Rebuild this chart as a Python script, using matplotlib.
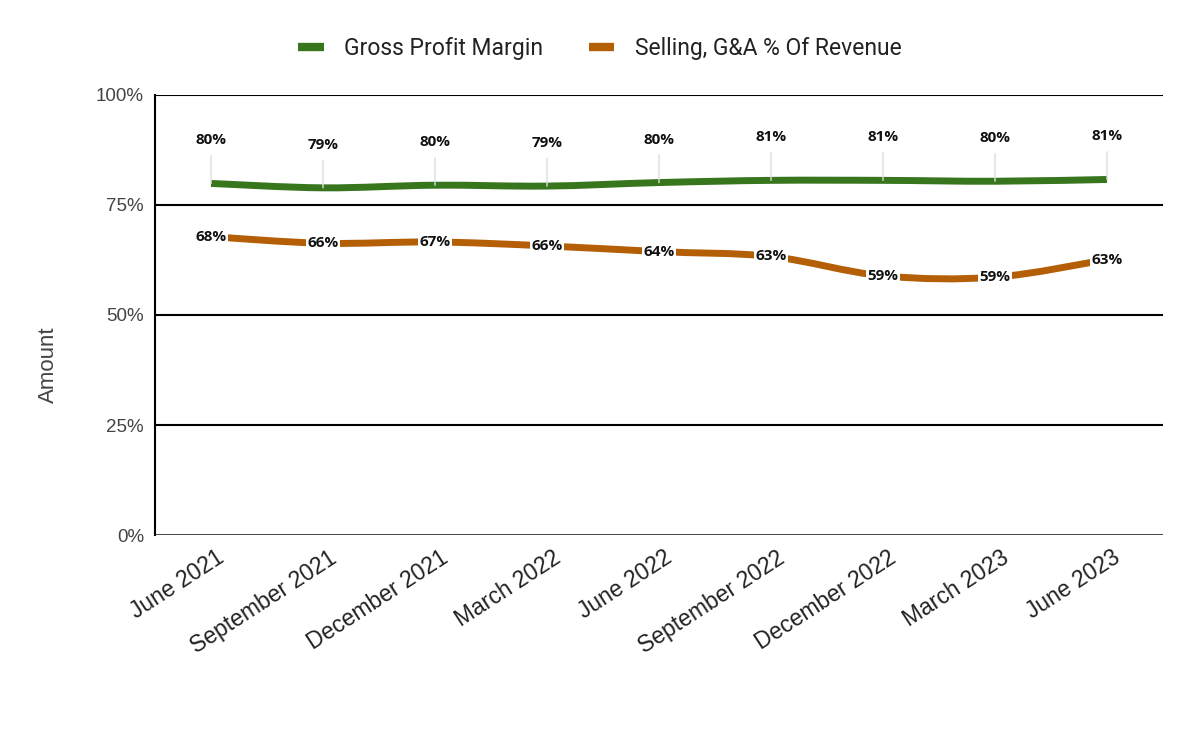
import numpy as np
import matplotlib.pyplot as plt
import matplotlib.transforms as mtransforms
from matplotlib.path import Path
from matplotlib.patches import PathPatch
from matplotlib.lines import Line2D

quarters = ['June 2021', 'September 2021', 'December 2021', 'March 2022', 'June 2022',
            'September 2022', 'December 2022', 'March 2023', 'June 2023']
gross_margin = [79.9, 78.9, 79.5, 79.3, 80.1, 80.6, 80.6, 80.4, 80.8]
sga_pct = [67.8, 66.3, 66.6, 65.7, 64.4, 63.3, 58.9, 58.6, 62.6]
y_ticks = [0, 25, 50, 75, 100]

GREEN = '#38761d'
ORANGE = '#b45f06'
LABEL_FONT = ['Open Sans', 'DejaVu Sans']


def smooth_path(xs, ys):
    """Catmull-Rom style bezier path through the points."""
    pts = np.column_stack([xs, ys]).astype(float)
    verts = [pts[0]]
    codes = [Path.MOVETO]
    n = len(pts)
    for i in range(n - 1):
        p0 = pts[max(i - 1, 0)]
        p1 = pts[i]
        p2 = pts[i + 1]
        p3 = pts[min(i + 2, n - 1)]
        c1 = p1 + (p2 - p0) / 6.0
        c2 = p2 - (p3 - p1) / 6.0
        verts += [c1, c2, p2]
        codes += [Path.CURVE4] * 3
    return Path(verts, codes)


fig = plt.figure(figsize=(12, 7.41), dpi=100)
ax = fig.add_axes([0.1292, 0.278, 0.84, 0.5938])

x = np.arange(len(quarters))

for vals, color in [(gross_margin, GREEN), (sga_pct, ORANGE)]:
    patch = PathPatch(smooth_path(x, vals), facecolor='none', edgecolor=color,
                      linewidth=5, capstyle='butt', joinstyle='round', zorder=4)
    ax.add_patch(patch)

# green labels above with leader lines
for i, v in enumerate(gross_margin):
    ax.annotate(f'{round(v):d}%', xy=(i, v), xytext=(0, 31), textcoords='offset points',
                ha='center', va='center', fontsize=11, fontweight='bold',
                family=LABEL_FONT, color='#111111', zorder=5,
                arrowprops=dict(arrowstyle='-', color='#dddddd', lw=1,
                                shrinkA=4, shrinkB=0), annotation_clip=False)

# orange labels on the line
for i, v in enumerate(sga_pct):
    ax.text(i, v, f'{round(v):d}%', ha='center', va='center', fontsize=11,
            fontweight='bold', family=LABEL_FONT, color='#111111', zorder=6,
            bbox=dict(boxstyle='square,pad=0.1', facecolor='white', edgecolor='none'))

ax.set_xlim(-0.5, len(quarters) - 0.5)
ax.set_ylim(0, 100)
ax.set_yticks(y_ticks)
ax.set_yticklabels([f'{t}%' for t in y_ticks], family='Liberation Sans', fontsize=13.5,
                   color='#444444')
ax.set_xticks(x)
ax.set_xticklabels(quarters, rotation=33, ha='right', rotation_mode='anchor',
                   family='Liberation Sans', fontsize=16.5, color='#222222')
ax.tick_params(axis='both', length=0)
ax.tick_params(axis='y', pad=8)
ax.tick_params(axis='x', pad=8)
shift = mtransforms.ScaledTranslation(5 / 100, 0, fig.dpi_scale_trans)
for lbl in ax.get_xticklabels():
    lbl.set_transform(lbl.get_transform() + shift)

for t in y_ticks[1:]:
    ax.axhline(t, color='black', lw=1.5, zorder=2)
ax.axhline(0, color='#333333', lw=2, zorder=3)

for s in ['top', 'right', 'bottom']:
    ax.spines[s].set_visible(False)
ax.spines['left'].set_color('black')
ax.spines['left'].set_linewidth(1.5)

fig.text(0.04, 1 - 365 / 741, 'Amount', rotation=90, ha='center', va='center',
         family='Liberation Sans', fontsize=16, color='#444444')

handles = [Line2D([], [], color=GREEN, lw=6, solid_capstyle='butt'),
           Line2D([], [], color=ORANGE, lw=6, solid_capstyle='butt')]
fig.legend(handles, ['Gross Profit Margin', 'Selling, G&A % Of Revenue'],
           loc='center', bbox_to_anchor=(0.5, 0.935), ncol=2, frameon=False,
           prop={'family': 'Roboto', 'size': 16.5}, handlelength=1.1,
           columnspacing=2.0, handletextpad=0.9, labelcolor='#222222')

fig.savefig('out.png', dpi=100, facecolor='white')
